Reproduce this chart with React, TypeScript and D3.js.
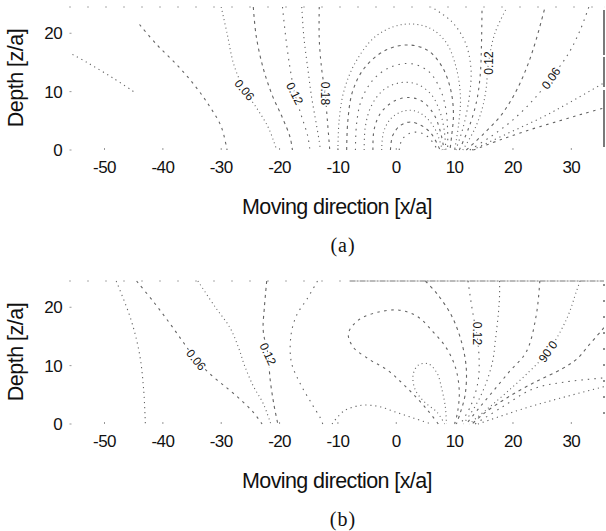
import React from 'react'
import * as d3 from 'd3'

// axis ticks
const xTicks = [-50, -40, -30, -20, -10, 0, 10, 20, 30]
const zTicks = [0, 10, 20]

// ---- panel (a) contour lines, [x/a, z/a] ----
const aLine002 = [[-57, 17.2], [-53, 15], [-48.5, 12.3], [-45, 10]]
const aLine003 = [[-44, 21.5], [-41, 18], [-37.5, 14.5], [-34.5, 11], [-32, 7.5], [-30, 4], [-29, 0]]
const aLine006L = [[-30, 24.5], [-29, 20], [-27.8, 14.5], [-26, 10.3], [-23.8, 7], [-22, 4], [-21, 1.5], [-20.5, 0]]
const aLine009L = [[-24.5, 24.5], [-24, 19.5], [-22.8, 14], [-21.3, 9.5], [-19.5, 5.5], [-18.2, 2.2], [-17.8, 0]]
const aLine012L = [[-19.5, 24.5], [-18.9, 19], [-18.2, 14], [-17.4, 9.7], [-16.3, 6], [-15.2, 2.5], [-14.8, 0]]
const aLine015L = [[-16.2, 24.5], [-15.8, 19], [-15.1, 13.5], [-14.5, 9], [-13.8, 5], [-13.2, 1.5], [-13, 0]]
const aLine018L = [[-13.2, 24.5], [-13.2, 19], [-12.8, 14], [-12.2, 9.7], [-11.8, 5], [-11.4, 0]]
const aLine021 = [[-10, 0], [-9.8, 5], [-9, 10], [-7, 15], [-3.5, 19.5], [1, 21.5], [5.5, 21], [8.5, 18.5], [10.3, 14], [11, 9], [10.7, 4.5], [10, 0]]
const aLine024 = [[-8.5, 0], [-8.3, 5], [-7.5, 10], [-5.5, 14], [-2, 17], [2, 18], [5.5, 17], [8, 14], [9.4, 10], [9.8, 6], [9.5, 2.5], [9.2, 0]]
const aLine027 = [[-7, 0], [-6.8, 4.5], [-6, 8.5], [-4, 12], [-1, 14.2], [2.5, 14.8], [5.5, 13.5], [7.5, 10.5], [8.5, 7], [8.8, 3.5], [8.8, 0]]
const aLine030 = [[-5.5, 0], [-5.3, 4], [-4.3, 7.5], [-2.3, 10.2], [0.5, 11.5], [3.5, 11.3], [6, 9.5], [7.5, 6.5], [8.2, 3.5], [8.5, 0]]
const aLine033 = [[-4, 0], [-3.8, 3.5], [-2.7, 6.3], [-0.5, 8.3], [2, 9], [4.5, 8.3], [6.5, 6], [7.6, 3], [8.2, 0]]
const aLine036 = [[-2.5, 0], [-2.2, 3], [-1, 5.3], [1, 6.6], [3.2, 6.7], [5.2, 5.5], [6.8, 3.3], [7.9, 0]]
const aLine039 = [[-1, 0], [-0.6, 2.5], [0.7, 4.2], [2.5, 4.8], [4.3, 4.2], [6, 2.8], [7.5, 0]]
const aLine042 = [[0.5, 0], [1, 1.8], [2.4, 2.9], [4, 3], [5.5, 2.2], [7.1, 0]]
const aLine018R = [[10.2, 0], [11.5, 4], [12.5, 9], [12.8, 14], [11.8, 18.5], [9.5, 22], [6, 24.5]]
const aLine015R = [[10.8, 0], [12.5, 4], [13.8, 8.5], [14.4, 13], [14.6, 18], [14.7, 24.5]]
const aLine012R = [[11.4, 0], [13.4, 3.5], [14.7, 7], [15.4, 10.5], [15.8, 14.9], [16.9, 20], [19, 24.5]]
const aLine009R = [[12, 0], [15, 2.8], [18, 6], [20.5, 10], [22.5, 14.5], [24, 19], [25.5, 24.5]]
const aLine006R = [[12.6, 0], [16.2, 2.3], [19.8, 5], [23.4, 8.5], [26.5, 12.3], [29.5, 16.5], [31.5, 20.5], [33, 24.5]]
const aLine0045R = [[13, 0], [19, 2.8], [25, 5.6], [30, 8.3], [35.6, 11.5]]
const aLine003R = [[13.2, 0], [18, 1.8], [23, 3.5], [28, 5], [32, 6.2], [35.6, 7.2]]

const aLabels = [
  { text: '0.06', x: -26, z: 10.3, angle: 50 },
  { text: '0.12', x: -17.4, z: 9.7, angle: 63 },
  { text: '0.18', x: -12.2, z: 9.7, angle: 90 },
  { text: '0.12', x: 15.8, z: 14.9, angle: -90 },
  { text: '0.06', x: 26.5, z: 12.3, angle: -55 }
]

// ---- panel (b) contour lines ----
const bLine003L = [[-48, 24.5], [-45.5, 18], [-44, 12], [-43.3, 6], [-43, 0]]
const bLine006L = [[-44.5, 24.5], [-41.5, 20.8], [-39, 17.5], [-36.5, 14], [-34.3, 11], [-31.5, 8.2], [-28.8, 6], [-26.5, 4], [-24.5, 2], [-23, 0]]
const bLine009L = [[-34, 24.5], [-31, 20], [-28.5, 16.5], [-27, 13], [-26, 10], [-24.5, 6.5], [-22.8, 3.5], [-21.5, 0]]
const bLine012L = [[-22.2, 24.5], [-22.6, 20], [-22.8, 16], [-22, 12], [-21.6, 7.5], [-21, 3.5], [-20.3, 0]]
const bLine015L = [[-13.5, 24.5], [-15.3, 21.4], [-17, 18.8], [-18, 15.5], [-18, 10.7], [-16.5, 7], [-14.5, 3.5], [-13, 1], [-12.6, 0]]
const bLine018 = [[-11, 0], [-9, 2.2], [-6, 3.2], [-3, 3], [0, 2], [3, 1], [6, 0]]
const bLoopOuter = [[7.2, 0], [5.5, 2.2], [3.5, 4.5], [1, 7], [-1.6, 9.3], [-4.5, 11], [-7.4, 13.2], [-8.2, 15.5], [-6.5, 17.8], [-3, 19.2], [0.5, 19.5], [3.5, 18.5], [6.3, 15.8], [8.6, 13], [10.2, 9.5], [10.8, 5.5], [10.5, 2], [10, 0]]
const bLoopInner = [[8.3, 0], [7, 2], [4.8, 3.8], [3.2, 6], [2.9, 8.5], [3.8, 10.1], [5.5, 10.3], [7, 8.7], [7.8, 6], [8.4, 3], [8.6, 0]]
const bLine015R = [[5, 24.5], [7, 22.3], [9.5, 18.5], [11.2, 14], [12, 9.5], [11.8, 5], [11, 2], [10.3, 0]]
const bLine012R = [[12.3, 24.5], [12.8, 21], [13.3, 18], [13.8, 15.5], [14.2, 11], [14, 7.2], [12.8, 3.2], [11, 0]]
const bLine009R = [[17.7, 24.5], [17.7, 22], [17.5, 19], [17, 14.5], [16.5, 10.7], [15.2, 6.5], [13.5, 3], [11.5, 0]]
const bLine0075R = [[24.6, 24.5], [24, 18.7], [22.3, 12.4], [19.4, 9], [16.5, 5.5], [14, 2.5], [12, 0]]
const bLine006R = [[31.5, 24.5], [30.9, 22.8], [29.2, 18], [26, 12.4], [22.8, 9], [19, 5.5], [15.5, 2.5], [12.5, 0]]
const bLine0045R = [[35.6, 16.5], [33, 13.5], [31, 11.2], [28.5, 9.5], [24, 7.3], [19, 4.5], [15, 1.8], [13, 0]]
const bLine003R = [[13.5, 0], [18, 2.8], [23.4, 6], [29, 7.2], [35.6, 7.9]]
const bLine002R = [[14, 0], [21.7, 2.6], [28, 4.4], [35.6, 6.4]]

const bLabels = [
  { text: '0.06', x: -34.3, z: 11, angle: 50 },
  { text: '0.12', x: -22, z: 12, angle: 65 },
  { text: '0.12', x: 13.8, z: 15.5, angle: 90 },
  { text: '0.06', x: 26, z: 12.4, angle: 125 }
]

const aLines = [aLine002, aLine003, aLine006L, aLine009L, aLine012L, aLine015L, aLine018L, aLine021, aLine024, aLine027, aLine030, aLine033, aLine036, aLine039, aLine042, aLine018R, aLine015R, aLine012R, aLine009R, aLine006R, aLine0045R, aLine003R]
const bLines = [bLine003L, bLine006L, bLine009L, bLine012L, bLine015L, bLine018, bLoopOuter, bLoopInner, bLine015R, bLine012R, bLine009R, bLine0075R, bLine006R, bLine0045R, bLine003R, bLine002R]

// scanned contour lines come out as sparse dots and dashes
const dashes = ['1.2 3.8', '2.5 4.5', '1 3.2', '3 4', '1.5 5']
const sans = 'Liberation Sans, Arial, Helvetica, sans-serif'

const Panel = ({ top, lines, labels, caption, topEdge, rightEdge }) => {
  const x = d3.scaleLinear().domain([-56, 35.6]).range([69.5, 604])
  const z = d3.scaleLinear().domain([0, 24.5]).range([top + 143, top])
  const line = d3
    .line()
    .x(d => x(d[0]))
    .y(d => z(d[1]))
    .curve(d3.curveCatmullRom.alpha(0.5))
  const clipId = 'clip' + top
  return (
    <g>
      <defs>
        <clipPath id={clipId}>
          <rect x={x(-56)} y={z(24.5) - 1} width={x(35.6) - x(-56)} height={z(0) - z(24.5) + 2} />
        </clipPath>
      </defs>
      <g clipPath={`url(#${clipId})`}>
        {lines.map((l, i) => (
          <path
            key={i}
            d={line(l)}
            fill="none"
            stroke="#222"
            strokeOpacity={0.7}
            strokeWidth={1.1}
            strokeDasharray={dashes[i % dashes.length]}
          />
        ))}
      </g>
      {/* faint top boundary */}
      <line x1={x(-56)} x2={x(topEdge)} y1={z(24.5)} y2={z(24.5)} stroke="#555" strokeWidth={1} strokeDasharray="1 17" />
      <line x1={x(topEdge)} x2={x(35.6)} y1={z(24.5)} y2={z(24.5)} stroke="#777" strokeWidth={1} strokeDasharray={rightEdge ? '1 9' : '6 1 2 1'} />
      {rightEdge ? (
        <line x1={x(35.6)} x2={x(35.6)} y1={z(24)} y2={z(0.5)} stroke="#333" strokeWidth={1.3} strokeDasharray="45 2 30 3 60 2" />
      ) : (
        <line x1={x(35.6)} x2={x(35.6)} y1={z(24)} y2={z(0)} stroke="#444" strokeWidth={1.2} strokeDasharray="2 14" />
      )}
      {/* ticks */}
      {zTicks.map(t => (
        <g key={'z' + t}>
          <line x1={x(-56)} x2={x(-56) + 2} y1={z(t)} y2={z(t)} stroke="#999" />
          <text x={62} y={z(t)} dy="0.35em" textAnchor="end" fontFamily={sans} fontSize={17} letterSpacing={-0.6} fill="#111">
            {t}
          </text>
        </g>
      ))}
      {xTicks.map(t => (
        <g key={'x' + t}>
          <line x1={x(t)} x2={x(t)} y1={z(0)} y2={z(0) - 2} stroke="#999" />
          <text x={x(t)} y={top + 160} dy="0.35em" textAnchor="middle" fontFamily={sans} fontSize={17} letterSpacing={-0.6} fill="#111">
            {t}
          </text>
        </g>
      ))}
      {labels.map((l, i) => (
        <text
          key={'l' + i}
          transform={`translate(${x(l.x)},${z(l.z)}) rotate(${l.angle})`}
          textAnchor="middle"
          dy="0.35em"
          fontFamily={sans}
          fontSize={12}
          fill="#111"
          stroke="#fff"
          strokeWidth={3}
          paintOrder="stroke"
        >
          {l.text}
        </text>
      ))}
      <text transform={`translate(23,${top + 71}) rotate(-90)`} textAnchor="middle" fontFamily={sans} fontSize={21.5} letterSpacing={-0.5} fill="#111">
        Depth [z/a]
      </text>
      <text x={337} y={top + 207} textAnchor="middle" fontFamily={sans} fontSize={21.5} letterSpacing={-0.6} fill="#111">
        Moving direction [x/a]
      </text>
      <text x={343} y={top + 245} textAnchor="middle" fontFamily="Liberation Serif, Times New Roman, serif" fontSize={20} letterSpacing={1} fill="#111">
        {caption}
      </text>
    </g>
  )
}

export default function App() {
  return (
    <svg width={606} height={531} style={{ display: 'block', position: 'absolute', left: 0, top: 0, background: '#fff' }}>
      <rect width={606} height={531} fill="#fff" />
      <Panel top={7} lines={aLines} labels={aLabels} caption="(a)" topEdge={35.6} rightEdge={true} />
      <Panel top={281} lines={bLines} labels={bLabels} caption="(b)" topEdge={-8} rightEdge={false} />
    </svg>
  )
}
